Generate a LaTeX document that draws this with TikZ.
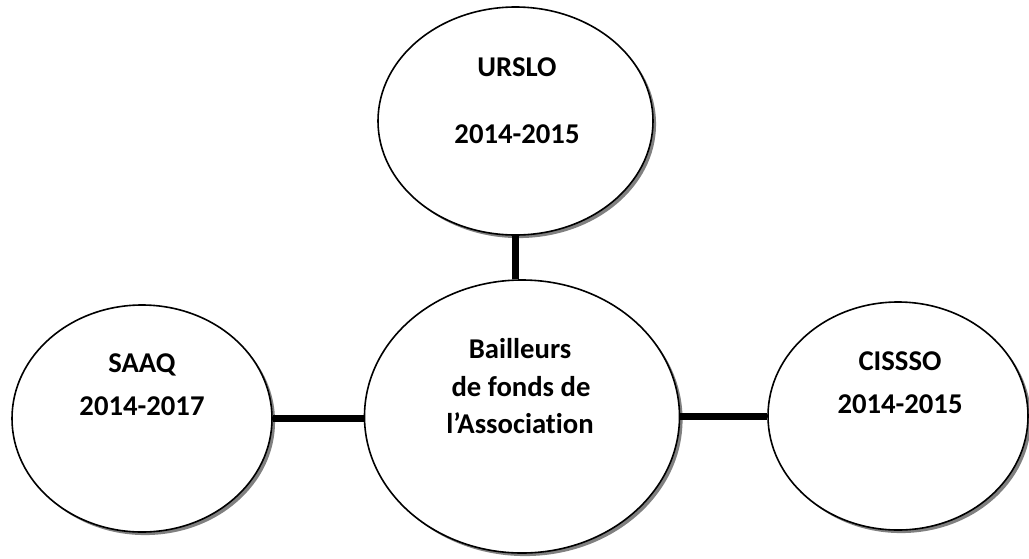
\documentclass[tikz,border=0pt]{standalone}
\usepackage{fontspec}
\setmainfont[Ligatures=NoCommon]{Carlito}
\usetikzlibrary{shapes.geometric,shadows}
\begin{document}
\begin{tikzpicture}[x=0.75pt,y=-0.75pt,
  bubble/.style={ellipse, draw=black, line width=1.2pt, fill=white, inner sep=0pt,
    drop shadow={shadow xshift=2.3pt, shadow yshift=-2.3pt, fill=black!50, opacity=1}},
  lbl/.style={font=\fontsize{21.5}{25}\selectfont\bfseries, inner sep=0pt, anchor=base},
  link/.style={line width=5pt}]
\useasboundingbox (0,0) rectangle (1029,558);
\node[bubble, minimum width=206.25pt, minimum height=171pt] (top) at (515.5,121) {};
\node[bubble, minimum width=236.25pt, minimum height=204.75pt] (mid) at (522,416.5) {};
\node[bubble, minimum width=195pt, minimum height=170.25pt] (left) at (142,418.5) {};
\node[bubble, minimum width=195pt, minimum height=171pt] (right) at (898,416) {};
\draw[link] (top.south) -- (top.south |- mid.north);
\draw[link] (left.east) -- (left.east -| mid.west);
\draw[link] (mid.east) -- (mid.east -| right.west);
\node[lbl] (t1) at (517,76) {URSLO};
\node[lbl] (t2) at (517,143) {2014-2015};
\node[lbl] (l1) at (142,372) {SAAQ};
\node[lbl] (l2) at (142,415) {2014-2017};
\node[lbl] (r1) at (900,370) {CISSSO};
\node[lbl] (r2) at (900,413) {2014-2015};
\node[lbl] (m1) at (520,358) {Bailleurs};
\node[lbl] (m2) at (521,396) {de fonds de};
\node[lbl] (m3) at (520,433) {l’Association};
\end{tikzpicture}
\end{document}
